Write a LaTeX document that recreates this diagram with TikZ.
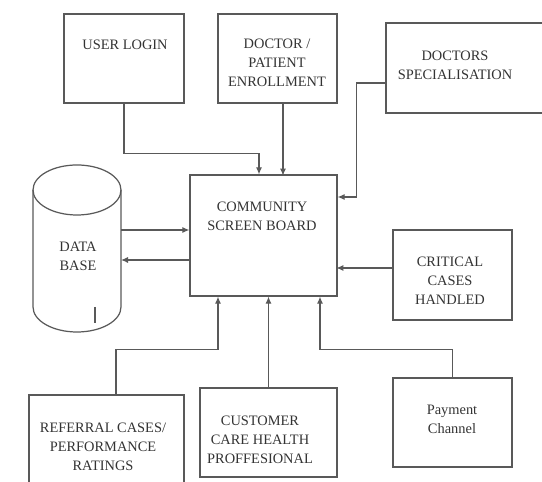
\documentclass[tikz,border=0pt]{standalone}
\usepackage{fontspec}
\setmainfont{Liberation Serif}
\usetikzlibrary{arrows.meta}

\begin{document}
\begin{tikzpicture}[x=0.02cm, y=-0.02cm,
    box/.style={draw=black!65, line width=0.7pt, inner sep=0pt},
    txt/.style={align=center, text=black!80, font=\fontsize{8.2}{10.8}\selectfont},
    arr/.style={draw=black!65, line width=0.7pt, -{Latex[length=4pt,width=3.5pt]}}]
    \useasboundingbox (0,0) rectangle (542,482);
    % boxes
    \node[box, minimum width=2.4cm, minimum height=1.78cm] (login) at (124,58.5) {};
    \node[box, minimum width=2.38cm, minimum height=1.78cm] (enroll) at (277.5,58.5) {};
    \node[box, minimum width=3.3cm, minimum height=1.8cm] (spec) at (468.5,68) {};
    \node[box, minimum width=2.94cm, minimum height=2.42cm] (board) at (263.5,235.5) {};
    \node[box, minimum width=2.38cm, minimum height=1.8cm] (critical) at (452.5,275) {};
    \node[box, minimum width=3.1cm, minimum height=2.1cm] (referral) at (106.5,447.5) {};
    \node[box, minimum width=2.74cm, minimum height=1.78cm] (customer) at (268.5,432.5) {};
    \node[box, minimum width=2.38cm, minimum height=1.78cm] (payment) at (452.5,422.5) {};
    % data base
    \draw[draw=black!65, line width=0.7pt] (77,190) ellipse (44 and 25);
    \draw[draw=black!65, line width=0.7pt] (33,190) -- (33,307) arc[start angle=180, end angle=360, x radius=44, y radius=-25] -- (121,190);
    \draw[draw=black!65, line width=0.7pt] (95,307) -- (95,323);
    \coordinate (dbOut) at (121,230);
    \coordinate (dbIn) at (121,260);
    % texts
    \node[txt] (loginText) at (125,45) {USER LOGIN};
    \node[txt] (enrollText) at (277,63) {DOCTOR /\\PATIENT\\ENROLLMENT};
    \node[txt] (specText) at (455,65) {DOCTORS\\SPECIALISATION};
    \node[txt] (boardText) at (262,216) {COMMUNITY\\SCREEN BOARD};
    \node[txt] (dbText) at (78,256) {DATA\\BASE};
    \node[txt] (criticalText) at (450,281) {CRITICAL\\CASES\\HANDLED};
    \node[txt] (referralText) at (103,447) {REFERRAL CASES/\\PERFORMANCE\\RATINGS};
    \node[txt] (customerText) at (260,440) {CUSTOMER\\CARE HEALTH\\PROFFESIONAL};
    \node[txt] (paymentText) at (452,419) {Payment\\Channel};
    % connectors
    \draw[arr] (login.south) -- ++(0,50) -| ([xshift=-0.09cm]board.north);
    \draw[arr] ([xshift=0.11cm]enroll.south) -- ++(0,72);
    \draw[arr] ([yshift=-0.3cm]spec.west) -- ++(-29,0) |- ([yshift=0.77cm]board.east);
    \draw[arr] (dbOut) -- (dbOut -| board.west);
    \draw[arr] (board.west |- dbIn) -- (dbIn);
    \draw[arr] ([yshift=0.14cm]critical.west) -- ++(-56,0);
    \draw[arr] ([xshift=0.19cm]referral.north) -- ++(0,-45) -| ([xshift=-0.91cm]board.south);
    \draw[arr] (customer.north) -- (customer.north |- board.south);
    \draw[arr] (payment.north) -- ++(0,-28) -| ([xshift=1.13cm]board.south);
\end{tikzpicture}
\end{document}
